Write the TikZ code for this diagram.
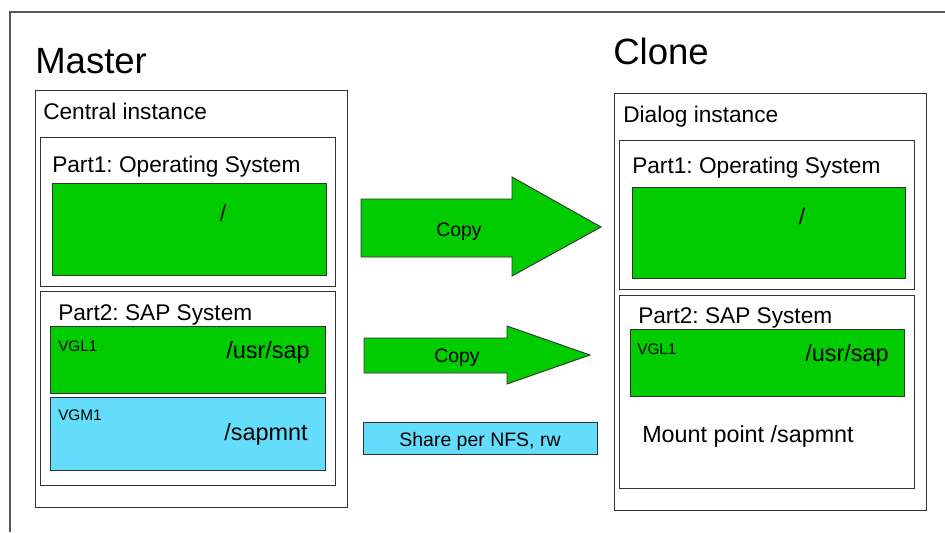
\documentclass[tikz,border=0pt]{standalone}
\usepackage{fontspec}
\setmainfont{Liberation Sans}
\frenchspacing
\definecolor{copygreen}{RGB}{0,204,0}
\definecolor{nfsblue}{RGB}{99,221,251}
\tikzset{
  frame/.style={draw=black!80, line width=0.7pt},
  lbl/.style={inner sep=0pt},
  big/.style={lbl, font=\fontsize{27.4}{30}\selectfont},
  mid/.style={lbl, font=\fontsize{17}{20}\selectfont},
  small/.style={lbl, font=\fontsize{11.5}{13}\selectfont}
}
\begin{document}
\begin{tikzpicture}[x=0.75pt, y=-0.75pt]
      \useasboundingbox (0,0) rectangle (945,532);
      \draw[draw=black!65, line width=1.1pt] (945,12) -- (10,12) -- (10,532);
      % master side
      \node[big, anchor=base west] (master) at (35,73) {Master};
      \draw[frame] (35,90) rectangle (347,507);
      \node[mid, anchor=base west] (ci) at (43,119) {Central instance};
      \draw[frame] (40,137) rectangle (335,286);
      \node[mid, anchor=base west] (mpart1) at (52,172) {Part1: Operating System};
      \draw[frame, fill=copygreen] (52,183) rectangle (326,275);
      \node[mid, anchor=base] (mroot) at (223,221) {/};
      \draw[frame] (40,291) rectangle (335,485);
      \node[mid, anchor=base west] (mpart2) at (58,320) {Part2: SAP System};
      \draw[frame, fill=copygreen] (50,326) rectangle (325,393);
      \node[small, anchor=base west] (mvgl) at (58,351) {VGL1};
      \node[mid, font=\fontsize{17.6}{20}\selectfont, anchor=base east] (musr) at (310,358) {/usr/sap};
      \draw[frame, fill=nfsblue] (50,397) rectangle (325,470);
      \node[small, anchor=base west] (mvgm) at (58,420) {VGM1};
      \node[mid, font=\fontsize{17.6}{20}\selectfont, anchor=base east] (mmnt) at (308,440) {/sapmnt};
      % arrows in between
      \draw[frame, fill=copygreen] (361,199) -- (512,199) -- (512,177) -- (601,227)
        -- (512,276) -- (512,257) -- (361,257) -- cycle;
      \node[lbl, font=\fontsize{14.6}{16}\selectfont, anchor=base] (copy1) at (459,236) {Copy};
      \draw[frame, fill=copygreen] (364,338) -- (507,338) -- (507,326) -- (590,355)
        -- (507,384) -- (507,373) -- (364,373) -- cycle;
      \node[lbl, font=\fontsize{14.6}{16}\selectfont, anchor=base] (copy2) at (457,362) {Copy};
      \draw[frame, fill=nfsblue] (363,422) rectangle (597,454);
      \node[lbl, font=\fontsize{14.6}{16}\selectfont, anchor=base] (nfs) at (480,446) {Share per NFS, rw};
      % clone side
      \node[big, anchor=base west] (clone) at (613,64) {Clone};
      \draw[frame] (614,93) rectangle (926,510);
      \node[mid, anchor=base west] (di) at (623,122) {Dialog instance};
      \draw[frame] (619,140) rectangle (914,289);
      \node[mid, anchor=base west] (cpart1) at (632,173) {Part1: Operating System};
      \draw[frame, fill=copygreen] (632,187) rectangle (905,278);
      \node[mid, anchor=base] (croot) at (802,224) {/};
      \draw[frame] (619,295) rectangle (914,488);
      \node[mid, anchor=base west] (cpart2) at (638,323) {Part2: SAP System};
      \draw[frame, fill=copygreen] (630,329) rectangle (904,396);
      \node[small, anchor=base west] (cvgl) at (637,354) {VGL1};
      \node[mid, font=\fontsize{17.6}{20}\selectfont, anchor=base east] (cusr) at (889,361) {/usr/sap};
      \node[mid, font=\fontsize{17.5}{20}\selectfont, anchor=base west] (cmnt) at (642,442) {Mount point /sapmnt};
    \end{tikzpicture}
\end{document}
